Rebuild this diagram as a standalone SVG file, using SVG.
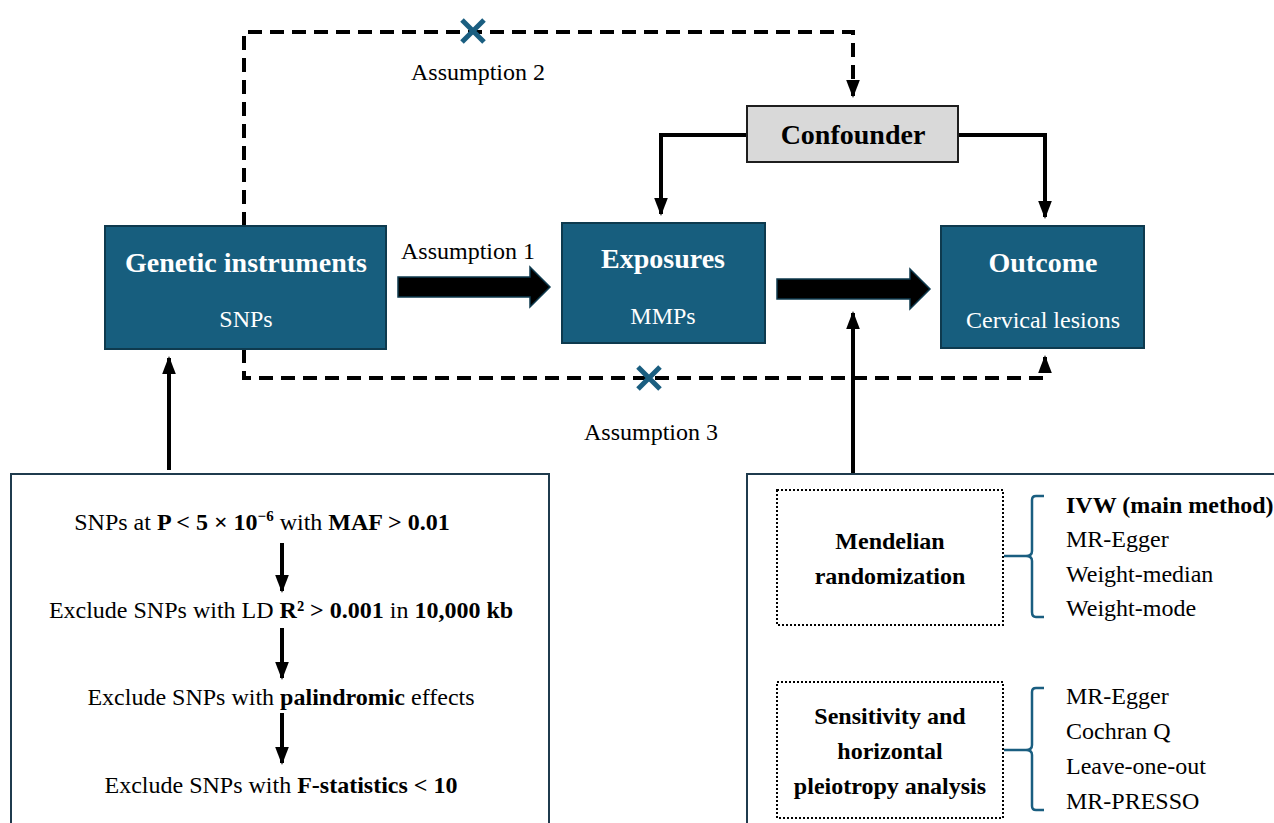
<svg xmlns="http://www.w3.org/2000/svg" width="1274" height="823" viewBox="0 0 1274 823">
<defs>
<style>
.t{font-family:"Liberation Serif","Times New Roman",serif;fill:#000}
.w{font-family:"Liberation Serif","Times New Roman",serif;fill:#fff}
.b{font-weight:bold}
.node{fill:#175e7e;stroke:#0e3a4e;stroke-width:2}
.dash{fill:none;stroke:#000;stroke-width:4;stroke-dasharray:14,8}
.solid{fill:none;stroke:#000;stroke-width:4}
.xm{stroke:#1a5e80;stroke-width:5;fill:none}
.brace{fill:none;stroke:#1a5e80;stroke-width:2.5}
.dot{fill:none;stroke:#000;stroke-width:2;stroke-dasharray:2,2}
.panel{fill:#fff;stroke:#1f3b4d;stroke-width:2}
.blk{fill:#000;stroke:#0e3a4e;stroke-width:1.5}
</style>
<marker id="ah" markerWidth="4.5" markerHeight="4" refX="4" refY="2" orient="auto" markerUnits="strokeWidth">
<path d="M0,0.3 L4.5,2 L0,3.7 z" fill="#000"/>
</marker>
</defs>
<rect width="1274" height="823" fill="#fff"/>

<g id="connectors">
<path class="dash" d="M244,226 V32 H853 V96" marker-end="url(#ah)"/>
<path class="dash" d="M244,349 V378 H1045 V366"/>
<path d="M1045,368 V357" stroke="#000" stroke-width="4" fill="none" marker-end="url(#ah)"/>
<path class="solid" d="M747,135 H661 V214" marker-end="url(#ah)"/>
<path class="solid" d="M958,135 H1045 V217" marker-end="url(#ah)"/>
<path class="solid" d="M169,470 V358" marker-end="url(#ah)"/>
<path class="solid" d="M853,473 V313" marker-end="url(#ah)"/>
<path class="blk" d="M398,277 H530 V267 L550,287 L530,307 V297 H398 z"/>
<path class="blk" d="M777,279 H910 V269 L930,289 L910,309 V299 H777 z"/>
<path class="xm" d="M462,20 L484,42 M484,20 L462,42"/>
<path class="xm" d="M638,367 L660,389 M660,367 L638,389"/>
<text class="t" x="478" y="80" font-size="24" text-anchor="middle">Assumption 2</text>
<text class="t" x="468" y="259" font-size="24" text-anchor="middle">Assumption 1</text>
<text class="t" x="651" y="440" font-size="24" text-anchor="middle">Assumption 3</text>
</g>

<g id="confounder">
<rect x="747" y="106" width="211" height="56" fill="#d9d9d9" stroke="#1e1e1e" stroke-width="2"/>
<text class="t b" x="853" y="144" font-size="28" text-anchor="middle">Confounder</text>
</g>

<g id="genetic">
<rect class="node" x="105" y="226" width="281" height="123"/>
<text class="w b" x="246" y="272" font-size="28" text-anchor="middle">Genetic instruments</text>
<text class="w" x="246" y="327" font-size="24" text-anchor="middle">SNPs</text>
</g>

<g id="exposures">
<rect class="node" x="562" y="223" width="203" height="120"/>
<text class="w b" x="663" y="268" font-size="28" text-anchor="middle">Exposures</text>
<text class="w" x="663" y="324" font-size="24" text-anchor="middle">MMPs</text>
</g>

<g id="outcome">
<rect class="node" x="941" y="226" width="203" height="122"/>
<text class="w b" x="1043" y="272" font-size="28" text-anchor="middle">Outcome</text>
<text class="w" x="1043" y="328" font-size="24" text-anchor="middle">Cervical lesions</text>
</g>

<g id="selection">
<rect class="panel" x="11" y="474" width="538" height="360"/>
<text class="t" x="262" y="530" font-size="24" text-anchor="middle">SNPs at <tspan class="b">P &lt; 5 × 10<tspan font-size="15" dy="-9">−6</tspan></tspan><tspan dy="9"> with </tspan><tspan class="b">MAF &gt; 0.01</tspan></text>
<path class="solid" d="M282,543 V591" marker-end="url(#ah)"/>
<text class="t" x="281" y="618" font-size="24" text-anchor="middle">Exclude SNPs with LD <tspan class="b">R² &gt; 0.001</tspan> in <tspan class="b">10,000 kb</tspan></text>
<path class="solid" d="M282,628 V678" marker-end="url(#ah)"/>
<text class="t" x="281" y="705" font-size="24" text-anchor="middle">Exclude SNPs with <tspan class="b">palindromic</tspan> effects</text>
<path class="solid" d="M282,713 V763" marker-end="url(#ah)"/>
<text class="t" x="281" y="793" font-size="24" text-anchor="middle">Exclude SNPs with <tspan class="b">F-statistics &lt; 10</tspan></text>
</g>

<g id="analysis">
<rect class="panel" x="747" y="474" width="540" height="360"/>
<rect class="dot" x="777" y="490" width="226" height="135"/>
<text class="t b" x="890" y="549" font-size="24" text-anchor="middle">Mendelian</text>
<text class="t b" x="890" y="584" font-size="24" text-anchor="middle">randomization</text>
<path class="brace" d="M1044,496 H1036 Q1032,496 1032,500 V551 Q1032,556 1026,556 H1004 M1026,556 Q1032,556 1032,561 V612 Q1032,617 1036,617 H1044"/>
<text class="t b" x="1066" y="513" font-size="24">IVW (main method)</text>
<text class="t" x="1066" y="547" font-size="24">MR-Egger</text>
<text class="t" x="1066" y="582" font-size="24">Weight-median</text>
<text class="t" x="1066" y="616" font-size="24">Weight-mode</text>

<rect class="dot" x="777" y="682" width="226" height="136"/>
<text class="t b" x="890" y="724" font-size="24" text-anchor="middle">Sensitivity and</text>
<text class="t b" x="890" y="759" font-size="24" text-anchor="middle">horizontal</text>
<text class="t b" x="890" y="794" font-size="24" text-anchor="middle">pleiotropy analysis</text>
<path class="brace" d="M1044,688 H1036 Q1032,688 1032,692 V745 Q1032,750 1026,750 H1004 M1026,750 Q1032,750 1032,755 V806 Q1032,810 1036,810 H1044"/>
<text class="t" x="1066" y="704" font-size="24">MR-Egger</text>
<text class="t" x="1066" y="739" font-size="24">Cochran Q</text>
<text class="t" x="1066" y="774" font-size="24">Leave-one-out</text>
<text class="t" x="1066" y="809" font-size="24">MR-PRESSO</text>
</g>
</svg>
